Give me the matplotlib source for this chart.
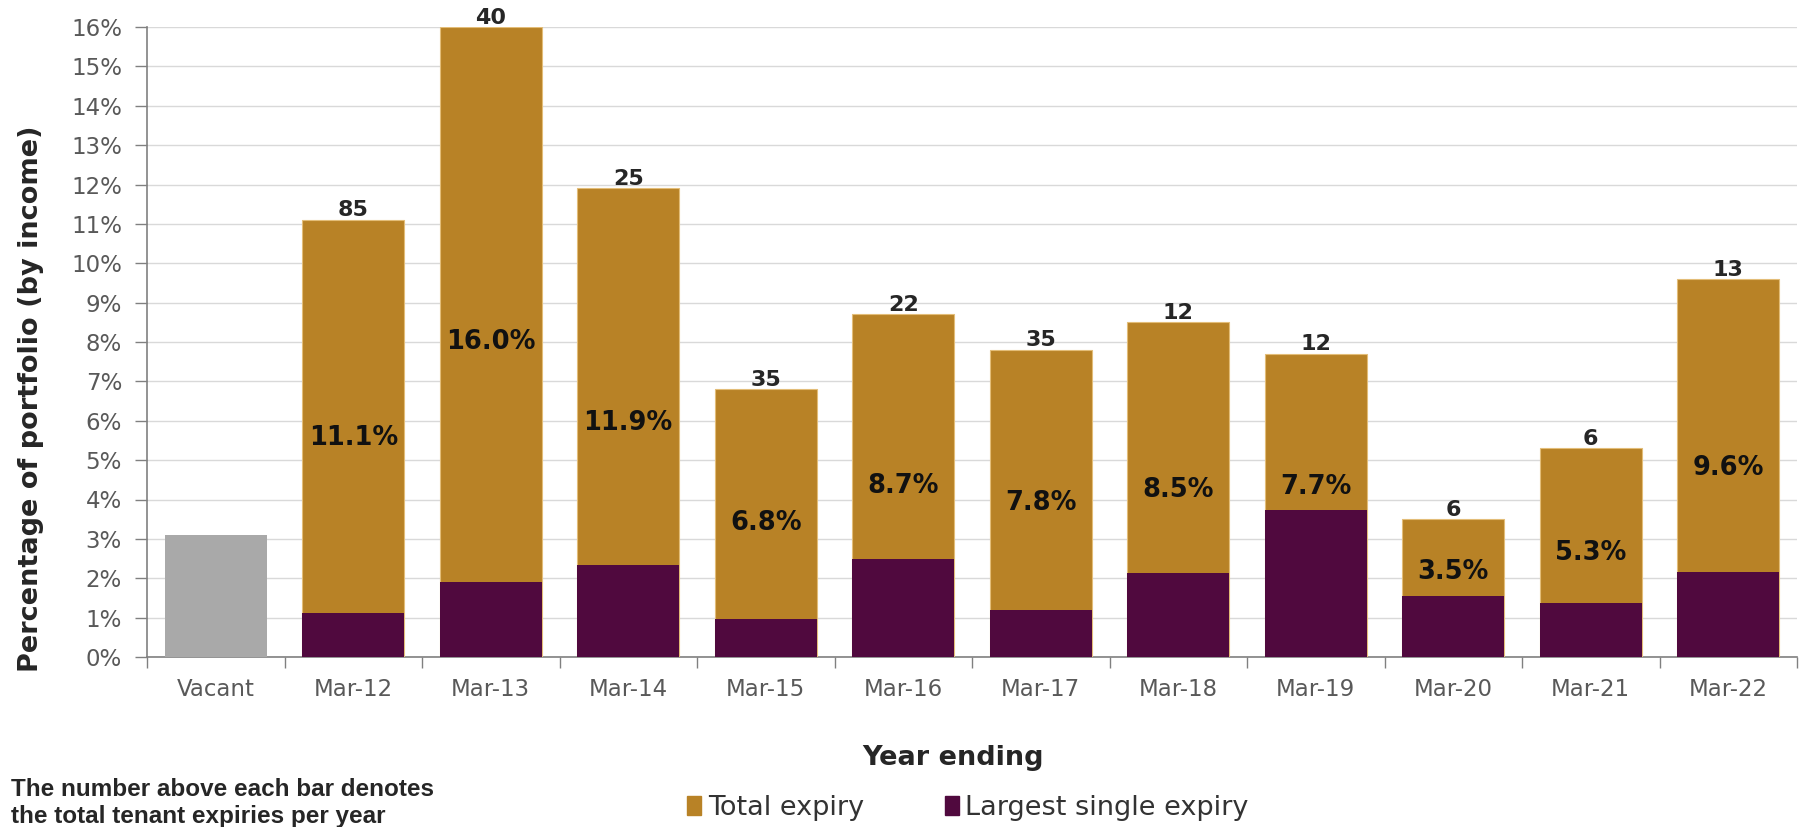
import matplotlib
matplotlib.use('Agg')
import matplotlib.pyplot as plt
from matplotlib.patches import Patch
import numpy as np

# data
categories = ['Vacant', 'Mar-12', 'Mar-13', 'Mar-14', 'Mar-15', 'Mar-16',
              'Mar-17', 'Mar-18', 'Mar-19', 'Mar-20', 'Mar-21', 'Mar-22']
vacant = 3.1
total_expiry = [11.1, 16.0, 11.9, 6.8, 8.7, 7.8, 8.5, 7.7, 3.5, 5.3, 9.6]
largest_expiry = [1.13, 1.9, 2.33, 0.96, 2.5, 1.2, 2.13, 3.73, 1.56, 1.38, 2.17]
tenant_counts = [85, 40, 25, 35, 22, 35, 12, 12, 6, 6, 13]

GOLD = '#b88226'
PURPLE = '#50093e'
GREY = '#a9a9a9'

fig = plt.figure(figsize=(18, 8.27), dpi=100)
ax = fig.add_axes([147 / 1800, 1 - 657 / 827, 1650 / 1800, 630 / 827])

x = np.arange(len(categories))
width = 0.745

ax.bar(x[0], vacant, width, color=GREY, zorder=3)
ax.bar(x[1:], total_expiry, width, color=GOLD, edgecolor='#e3bd78', linewidth=0.8, zorder=3)
ax.bar(x[1:], largest_expiry, width, color=PURPLE, zorder=4)

# labels: counts above, total in the middle of the gold part
for xi, tot, lg, n in zip(x[1:], total_expiry, largest_expiry, tenant_counts):
    ax.annotate(str(n), (xi, tot), xytext=(0, 2.5), textcoords='offset points',
                ha='center', va='baseline', fontsize=16, fontweight='bold',
                color='#262626', annotation_clip=False, zorder=5)
    ypos = max(tot / 2, lg + 0.6)
    ax.text(xi, ypos, f'{tot:.1f}%', ha='center', va='center', fontsize=18.5,
            fontweight='bold', color='#111111', zorder=5)

ax.set_xlim(-0.5, len(categories) - 0.5)
ax.set_ylim(0, 16)
ax.set_yticks(np.arange(0, 17, 1))
ax.set_yticklabels([f'{v}%' for v in range(17)])
ax.set_xticks(x)
ax.set_xticklabels(categories)
ax.set_xticks(np.arange(-0.5, len(categories), 1), minor=True)

ax.tick_params(axis='y', length=9, width=1, color='#808080', pad=9,
               labelsize=16.5, labelcolor='#595959')
ax.tick_params(axis='x', which='major', length=0, pad=15, labelsize=16.5, labelcolor='#595959')
ax.tick_params(axis='x', which='minor', length=8, width=1, color='#808080')

ax.grid(axis='y', color='#d9d9d9', linewidth=1, zorder=0)
ax.set_axisbelow(True)
for side in ['top', 'right']:
    ax.spines[side].set_visible(False)
for side in ['left', 'bottom']:
    ax.spines[side].set_color('#808080')
    ax.spines[side].set_linewidth(1.2)

ax.set_ylabel('Percentage of portfolio (by income)', fontsize=19.5, fontweight='bold', color='#262626')
ax.yaxis.set_label_coords(-0.0624, 0.41)

fig.text(953 / 1800, 1 - 758 / 827, 'Year ending', ha='center', va='center',
         fontsize=19.5, fontweight='bold', color='#262626')

handles = [Patch(color=GOLD, label='Total expiry'),
           Patch(color=PURPLE, label='Largest single expiry')]
fig.legend(handles=handles, loc='center', bbox_to_anchor=(968 / 1800, 1 - 808 / 827), ncol=2,
           frameon=False, fontsize=19.5, handlelength=0.5, handleheight=0.7,
           handletextpad=0.25, columnspacing=3.0, labelcolor='#333333')

fig.text(11 / 1800, 1 - 803 / 827, 'The number above each bar denotes\nthe total tenant expiries per year',
         ha='left', va='center', fontsize=17.5, fontweight='bold', color='#262626',
         family='Liberation Sans', linespacing=1.25)

fig.savefig('out.png', dpi=100)
